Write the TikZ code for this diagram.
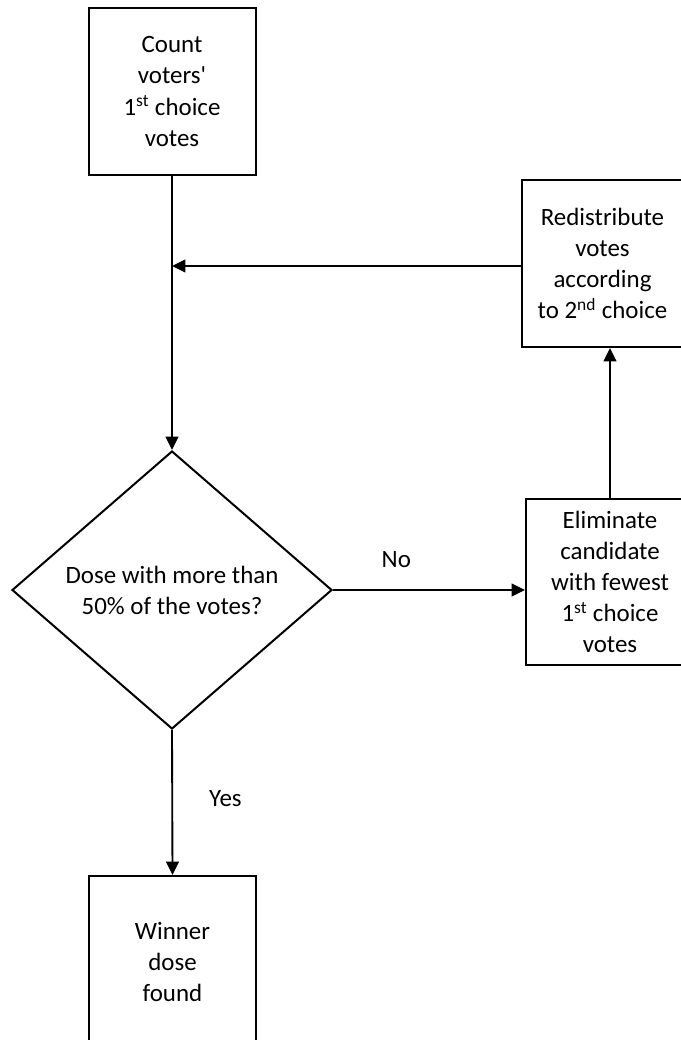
\documentclass[tikz,border=0pt]{standalone}
\usepackage{fontspec}
\setmainfont{Carlito}[Ligatures=TeXOff]
\usetikzlibrary{shapes.geometric,arrows.meta}

\begin{document}
\begin{tikzpicture}[x=0.75pt,y=-0.75pt,
    caja/.style={draw, line width=1.5pt, align=center, inner sep=0pt,
      font=\fontsize{18.7}{23.3}\selectfont},
    etiqueta/.style={inner sep=0pt, font=\fontsize{18.7}{23.3}\selectfont},
    flecha/.style={line width=1.4pt, -{Triangle[length=10pt,width=9.5pt]}}]
    \useasboundingbox (0,0) rectangle (681,1040);

    % Cajas
    \node[caja, minimum width=125.25pt, minimum height=125.25pt] (contar) at (172,91.5)
        {Count\\voters'\\1\textsuperscript{st} choice\\votes};
    \node[caja, minimum width=120.75pt, minimum height=125.25pt] (redistribuir) at (602.5,263.5)
        {Redistribute\\votes\\according\\to 2\textsuperscript{nd} choice};
    \node[caja, minimum width=126pt, minimum height=124.5pt] (eliminar) at (610,582)
        {Eliminate\\candidate\\with fewest\\1\textsuperscript{st} choice\\votes};
    \node[caja, minimum width=125.25pt, minimum height=129pt] (ganador) at (172.5,962)
        {Winner\\dose\\found};

    % Rombo de decision
    \node[caja, diamond, minimum width=240pt, minimum height=208.5pt] (decision) at (172,590)
        {Dose with more than\\50\% of the votes?};

    % Flechas
    \coordinate (union) at (172,266);
    \draw[flecha] (contar.south) -- (decision.north);
    \draw[flecha] (redistribuir.west |- union) -- (union);
    \draw[flecha] (decision.east) -- (decision.east -| eliminar.west)
        node[etiqueta, pos=0.33, above=15.75pt] {No};
    \draw[flecha] (eliminar.north) -- (eliminar.north |- redistribuir.south);
    \draw[flecha] (decision.south) -- (ganador.north)
        node[etiqueta, pos=0.47, right=27pt] {Yes};
\end{tikzpicture}
\end{document}
